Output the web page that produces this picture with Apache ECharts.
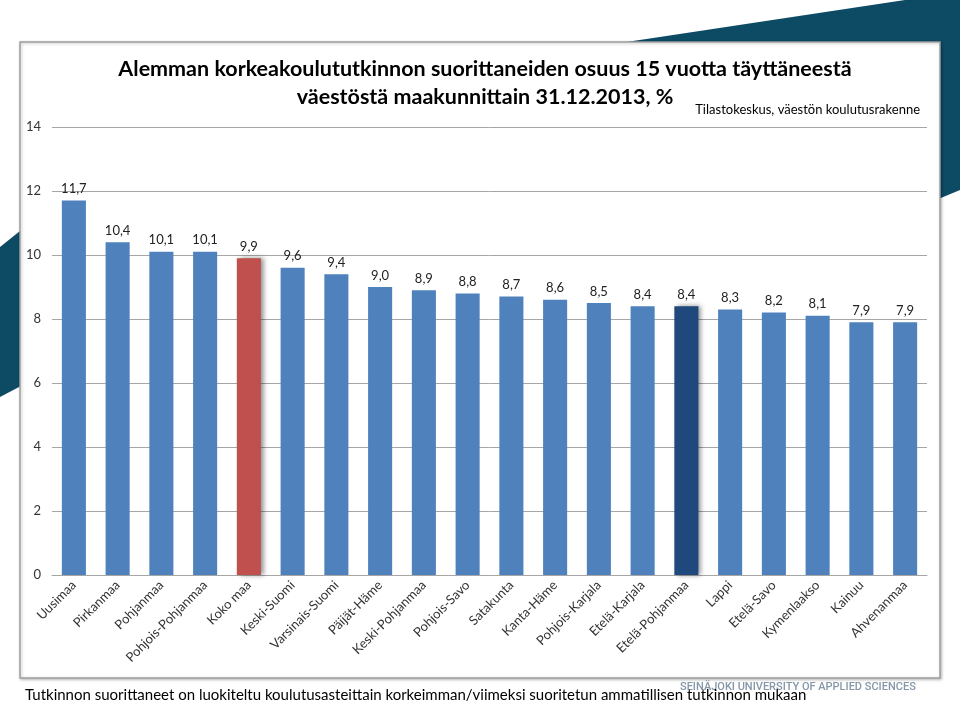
<!DOCTYPE html>
<html>
<head>
<meta charset="utf-8">
<script src="https://cdn.jsdelivr.net/npm/echarts@6/dist/echarts.min.js"></script>
<style>html,body{margin:0;padding:0;background:#fff;}#c{width:960px;height:704px;}</style>
</head>
<body>
<div id="c"></div>
<script>
const categories = ['Uusimaa','Pirkanmaa','Pohjanmaa','Pohjois-Pohjanmaa','Koko maa','Keski-Suomi','Varsinais-Suomi','Päijät-Häme','Keski-Pohjanmaa','Pohjois-Savo','Satakunta','Kanta-Häme','Pohjois-Karjala','Etelä-Karjala','Etelä-Pohjanmaa','Lappi','Etelä-Savo','Kymenlaakso','Kainuu','Ahvenanmaa'];
const values = [11.7,10.4,10.1,10.1,9.9,9.6,9.4,9.0,8.9,8.8,8.7,8.6,8.5,8.4,8.4,8.3,8.2,8.1,7.9,7.9];
const yTicks = [0,2,4,6,8,10,12,14];
const titleLines = ['Alemman korkeakoulututkinnon suorittaneiden osuus 15 vuotta täyttäneestä','väestöstä maakunnittain 31.12.2013, %'];
const sourceText = 'Tilastokeskus, väestön koulutusrakenne';
const captionText = 'Tutkinnon suorittaneet on luokiteltu koulutusasteittain korkeimman/viimeksi suoritetun ammatillisen tutkinnon mukaan';
const logoText = 'SEINÄJOKI UNIVERSITY OF APPLIED SCIENCES';

const FONT = 'Lato';
const BLUE = '#4F81BD', RED = '#C0504D', DARK = '#1F497D';
const highlight = {'Koko maa': RED, 'Etelä-Pohjanmaa': DARK};

const chart = echarts.init(document.getElementById('c'), null, {renderer:'canvas'});
const barData = values.map((v,i)=>{
  const c = highlight[categories[i]];
  if (!c) return v;
  return {value:v, itemStyle:{color:c, shadowColor:'rgba(0,0,0,0.45)', shadowBlur:5, shadowOffsetX:3, shadowOffsetY:0}};
});
const DECO = '#0d4a64';
chart.setOption({
  animation:false,
  backgroundColor:'#fff',
  title:{
    text: titleLines.join('\n'),
    left: 480, top: 50, textAlign:'center',
    textStyle:{fontFamily:FONT, fontWeight:'bold', fontSize:21.5, lineHeight:28, color:'#000'}
  },
  graphic:[
    {type:'polygon', z:-3, shape:{points:[[600,46],[905,0],[960,0],[960,190],[900,215],[900,46]]}, style:{fill:DECO}},
    {type:'polygon', z:-3, shape:{points:[[0,247],[40,215],[40,376],[0,397]]}, style:{fill:DECO}},
    {type:'rect', z:-2, shape:{x:20,y:42,width:920,height:636}, style:{fill:'#fff', stroke:'#a0a0a0', lineWidth:1.5, shadowColor:'rgba(0,0,0,0.25)', shadowBlur:3, shadowOffsetX:1, shadowOffsetY:1}},
    {type:'text', z:5, style:{text:sourceText, x:920, y:110, align:'right', verticalAlign:'middle', font:'13px '+FONT, fill:'#000'}},
    {type:'text', z:5, style:{text:logoText, x:680, y:687, align:'left', verticalAlign:'middle', font:'500 11px Roboto', fill:'#8597a8'}},
    {type:'text', z:6, style:{text:captionText, x:25, y:695, align:'left', verticalAlign:'middle', font:'15px '+FONT, fill:'#000'}}
  ],
  grid:{left:52, right:33, top:127, bottom:129, containLabel:false},
  xAxis:{
    type:'category', data:categories,
    axisLine:{show:true, lineStyle:{color:'#a6a6a6', width:1}},
    axisTick:{show:false},
    axisLabel:{rotate:45, interval:0, fontFamily:FONT, fontSize:13, color:'#333', margin:8}
  },
  yAxis:{
    type:'value', min:yTicks[0], max:yTicks[yTicks.length-1], interval:2,
    axisLine:{show:false}, axisTick:{show:false},
    axisLabel:{fontFamily:FONT, fontSize:13, color:'#333', margin:11},
    splitLine:{lineStyle:{color:'#a6a6a6', width:1}}
  },
  series:[{
    type:'bar', data:barData, barCategoryGap:'45%', itemStyle:{color:BLUE},
    label:{show:true, position:'top', distance:5, fontFamily:FONT, fontSize:13, color:'#222',
      formatter:p=>p.value.toFixed(1).replace('.',',')}
  }]
});
</script>
</body>
</html>
